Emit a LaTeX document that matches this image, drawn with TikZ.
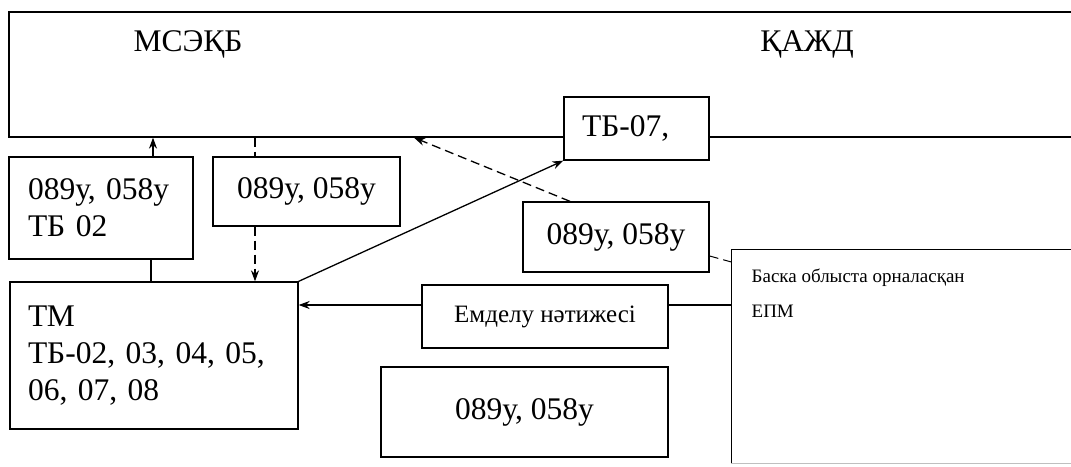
\documentclass[tikz,border=0pt]{standalone}
\usepackage{fontspec}
\setmainfont{Liberation Serif}
\usepackage{tikz}
\usetikzlibrary{arrows.meta,calc}
\tikzset{
    blk/.style={draw, fill=white, line width=1.3pt, inner sep=0pt},
    big/.style={font=\fontsize{31.5}{37}\selectfont},
    dsh/.style={dash pattern=on 9pt off 5pt},
    arr/.style={-{Stealth[length=11pt,width=8pt]}}
}
\begin{document}
\begin{tikzpicture}[x=1pt, y=-1pt, line width=1.3pt]
    \useasboundingbox (0,0) rectangle (1071,466);
    \clip (0,0) rectangle (1071,466);
    \node[blk, minimum width=1076, minimum height=125] (top) at (547,74.5) {};
    \node[big] (msek) at (188,44) {МСЭҚБ};
    \node[big] (kazh) at (807,44) {ҚАЖД};
    \node[blk, big, minimum width=184, minimum height=102, text width=146, align=left] (fa) at (101,208) {089у, 058у\\ТБ 02};
    \node[blk, big, minimum width=187, minimum height=69] (fb) at (306.5,191.5) {089у, 058у};
    \node[blk, big, minimum width=145, minimum height=63, text width=109, align=left] (tb) at (636.5,128.5) {ТБ-07,};
    \node[blk, big, minimum width=186, minimum height=70] (fc) at (616,237) {089у, 058у};
    \node[blk, big, minimum width=288, minimum height=147, text width=252, align=left] (tm) at (154,355.5) {ТМ\\ТБ-02, 03, 04, 05,\\06, 07, 08};
    \node[blk, font=\fontsize{25}{30}\selectfont, minimum width=246, minimum height=63] (emd) at (545,316.5) {Емделу нәтижесі};
    \node[blk, big, minimum width=287, minimum height=90] (fd) at (524.5,412) {089у, 058у};
    \node[inner sep=0pt, minimum width=358, minimum height=213] (epm) at (911,356.5) {};
    \draw (epm.south west) -- (epm.north west) -- (epm.north east);
    \draw[black!25, line width=1pt] (epm.south west) -- (epm.south east);
    \node[anchor=north west, inner sep=0pt, align=left, font=\fontsize{19}{35}\selectfont] (epmt) at (751,268) {Баска облыста орналасқан\\ЕПМ};
    \draw[arr] ([xshift=52pt]fa.north) -- ([xshift=52pt]fa.north |- top.south);
    \draw ([xshift=50pt]fa.south) -- ([xshift=50pt]fa.south |- tm.north);
    \draw[dsh] ([xshift=-51.5pt]fb.north |- top.south) -- ([xshift=-51.5pt]fb.north);
    \draw[dsh, arr] ([xshift=-51.5pt]fb.south) -- ([xshift=-51.5pt]fb.south |- tm.north);
    \draw[arr] (tm.north east) -- (tb.south west);
    \draw[dsh, arr] ([xshift=-46pt]fc.north) -- ([xshift=-202pt]fc.north |- top.south);
    \draw[dsh, line width=1pt] ([yshift=-19pt]fc.east) -- ([yshift=94.5pt]epm.west);
    \coordinate (lv) at ([yshift=11.5pt]emd.east);
    \draw (lv) -- (lv -| epm.west);
    \draw[arr] (lv -| emd.west) -- (lv -| tm.east);
\end{tikzpicture}
\end{document}
